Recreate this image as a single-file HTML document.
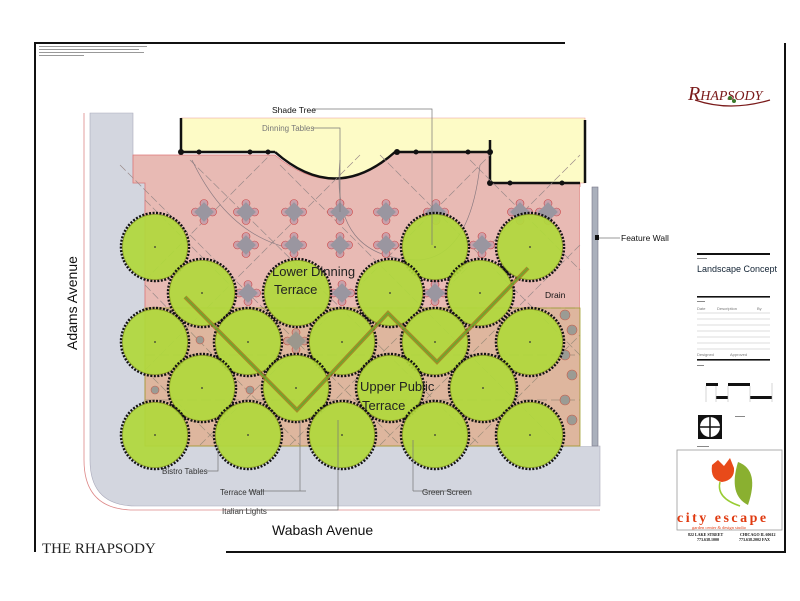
<!DOCTYPE html>
<html><head><meta charset="utf-8"><style>
html,body{margin:0;padding:0;background:#fff;}
svg{display:block;font-family:"Liberation Sans",sans-serif;}
</style></head><body>
<svg width="800" height="601" viewBox="0 0 800 601" xmlns="http://www.w3.org/2000/svg">
<defs>
<g id="tb">
<circle cx="0" cy="-8.5" r="4" fill="#c9a0aa" stroke="#c44" stroke-width="0.6"/>
<circle cx="0" cy="8.5" r="4" fill="#c9a0aa" stroke="#c44" stroke-width="0.6"/>
<circle cx="-8.5" cy="0" r="4" fill="#c9a0aa" stroke="#c44" stroke-width="0.6"/>
<circle cx="8.5" cy="0" r="4" fill="#c9a0aa" stroke="#c44" stroke-width="0.6"/>
<rect x="-7" y="-7" width="14" height="14" fill="#9a96a0" transform="rotate(45)"/>
</g>
<g id="tr">
<circle r="34" fill="none" stroke="#111" stroke-width="2.5" stroke-dasharray="2 1.5"/>
<circle r="32.5" fill="#b0d83c" fill-opacity="0.93" stroke="#8aa020" stroke-width="0.8"/>
<circle r="0.9" fill="#333"/>
</g>
</defs>
<rect width="800" height="601" fill="#fff"/>
<line x1="35" y1="43" x2="565" y2="43" stroke="#111" stroke-width="2"/>
<line x1="35" y1="42" x2="35" y2="552" stroke="#111" stroke-width="2"/>
<line x1="785" y1="43" x2="785" y2="552" stroke="#111" stroke-width="2"/>
<line x1="226" y1="552" x2="786" y2="552" stroke="#111" stroke-width="2"/>
<g fill="#999"><rect x="39" y="46" width="108" height="1"/><rect x="39" y="49" width="100" height="1"/><rect x="39" y="52" width="105" height="1"/><rect x="39" y="55" width="45" height="1"/></g>
<path d="M84 113 V460 Q84 510 134 510 H600" fill="none" stroke="#d88" stroke-width="0.8"/>
<path d="M90 113 H133 V183 H145 V446 H600 V506 H136 Q90 506 90 460 Z" fill="#d3d6df" stroke="#aab" stroke-width="0.6"/>
<path d="M181 118 H585 V183 H490 V152 H395 Q335 205 275 152 H181 Z" fill="#fdfbc6" stroke="#e99" stroke-width="0.6"/>
<path d="M133 155 H275 Q335 205 395 152 H490 V183 H580 V446 H145 V183 H133 Z" fill="#e8bab4" stroke="#d77" stroke-width="0.8"/>
<rect x="580" y="187" width="12" height="259" fill="#fff"/>
<rect x="592" y="187" width="6" height="259" fill="#aab0bc" stroke="#778" stroke-width="0.6"/>
<g stroke="#111" stroke-width="2.5" fill="none">
<path d="M181 118 V152 H275"/><path d="M275 152 Q335 205 395 152"/><path d="M395 152 H490"/><path d="M490 140 V183 H580"/><path d="M585 120 V183"/>
</g>
<g fill="#111"><circle cx="181" cy="152" r="3"/><circle cx="199" cy="152" r="2.5"/><circle cx="250" cy="152" r="2.5"/><circle cx="268" cy="152" r="2.5"/><circle cx="397" cy="152" r="3"/><circle cx="416" cy="152" r="2.5"/><circle cx="468" cy="152" r="2.5"/><circle cx="490" cy="152" r="3"/><circle cx="490" cy="183" r="3"/><circle cx="510" cy="183" r="2.5"/><circle cx="562" cy="183" r="2.5"/></g>
<g stroke="#9a8a8a" stroke-width="0.7" fill="none" stroke-dasharray="8 3">
<path d="M120 165 L400 445 M190 160 L480 445 M280 165 L560 445 M380 155 L580 355 M470 160 L580 270 M145 200 L230 285 M145 285 L300 445 M145 370 L220 445"/>
<path d="M145 280 L270 155 M145 370 L360 155 M200 445 L490 155 M290 445 L580 155 M380 445 L580 245 M470 445 L580 335"/>
<path d="M145 308 H580 M145 355 H580 M145 400 H580" stroke-dasharray="10 4"/>
</g>
<g fill="none" stroke="#8a7a80" stroke-width="0.7"><path d="M192 160 Q230 240 300 250 M340 160 Q330 260 420 260 Q470 255 480 165"/></g>
<g>
<use href="#tb" x="204" y="212"/><use href="#tb" x="246" y="212"/><use href="#tb" x="294" y="212"/><use href="#tb" x="340" y="212"/><use href="#tb" x="386" y="212"/><use href="#tb" x="436" y="212"/><use href="#tb" x="520" y="212"/><use href="#tb" x="548" y="212"/>
<use href="#tb" x="246" y="245"/><use href="#tb" x="294" y="245"/><use href="#tb" x="340" y="245"/><use href="#tb" x="386" y="245"/><use href="#tb" x="482" y="245"/>
<use href="#tb" x="248" y="293"/><use href="#tb" x="342" y="293"/><use href="#tb" x="435" y="293"/>
<use href="#tb" x="296" y="341"/>
</g>
<g fill="#999aa8" stroke="#c55" stroke-width="0.6"><circle cx="565" cy="315" r="5"/><circle cx="572" cy="330" r="5"/><circle cx="565" cy="355" r="5"/><circle cx="572" cy="375" r="5"/><circle cx="565" cy="400" r="5"/><circle cx="572" cy="420" r="5"/><circle cx="200" cy="340" r="4"/><circle cx="250" cy="390" r="4"/><circle cx="155" cy="390" r="4"/></g>
<rect x="145" y="308" width="435" height="138" fill="#a9a020" fill-opacity="0.15" stroke="#a0a030" stroke-width="0.8"/>
<g>
<use href="#tr" x="155" y="247"/><use href="#tr" x="435" y="247"/><use href="#tr" x="530" y="247"/>
<use href="#tr" x="202" y="293"/><use href="#tr" x="297" y="293"/><use href="#tr" x="390" y="293"/><use href="#tr" x="480" y="293"/>
<use href="#tr" x="155" y="342"/><use href="#tr" x="248" y="342"/><use href="#tr" x="342" y="342"/><use href="#tr" x="435" y="342"/><use href="#tr" x="530" y="342"/>
<use href="#tr" x="202" y="388"/><use href="#tr" x="296" y="388"/><use href="#tr" x="390" y="388"/><use href="#tr" x="483" y="388"/>
<use href="#tr" x="155" y="435"/><use href="#tr" x="248" y="435"/><use href="#tr" x="342" y="435"/><use href="#tr" x="435" y="435"/><use href="#tr" x="530" y="435"/>
</g>
<polyline points="185,297 297,410 388,313 437,362 528,268" fill="none" stroke="#a07a20" stroke-width="4" stroke-opacity="0.8"/>
<polyline points="185,297 297,410 388,313 437,362 528,268" fill="none" stroke="#5fae30" stroke-width="1.2"/>
<g stroke="#777" stroke-width="0.7" fill="none">
<path d="M313 109 H432 V245"/><path d="M313 128 H340 V212"/><path d="M598 238 H620"/>
<path d="M207 471 H218 V445"/><path d="M306 491 H300 V420 M248 491 H300"/><path d="M230 510 H338 V420"/><path d="M413 491 H470 M413 491 V440"/>
</g>
<rect x="595" y="235" width="4" height="5" fill="#111"/>
<g font-size="8.5" fill="#111">
<text x="272" y="113">Shade Tree</text>
<text x="621" y="241">Feature Wall</text>
<text x="545" y="298">Drain</text>
</g>
<text x="262" y="131" font-size="8" fill="#777">Dinning Tables</text>
<g font-size="8" fill="#333">
<text x="162" y="474">Bistro Tables</text>
<text x="220" y="495">Terrace Wall</text>
<text x="222" y="514">Italian Lights</text>
<text x="422" y="495">Green Screen</text>
</g>
<g font-size="13" fill="#222">
<text x="272" y="276">Lower Dinning</text><text x="274" y="294">Terrace</text>
<text x="360" y="391">Upper Public</text><text x="362" y="410">Terrace</text>
</g>
<text x="272" y="535" font-size="14" fill="#111">Wabash Avenue</text>
<text transform="translate(77 350) rotate(-90)" font-size="14" fill="#111">Adams Avenue</text>
<text x="42" y="553" font-family="Liberation Serif,serif" font-size="15" fill="#222">THE RHAPSODY</text>
<text x="688" y="100" font-family="Liberation Serif,serif" font-size="20" fill="#7a1a1a" font-style="italic">R<tspan font-size="14">HAPSODY</tspan></text>
<path d="M695 100 Q730 112 770 100" stroke="#7a1a1a" stroke-width="1.2" fill="none"/>
<circle cx="730" cy="98" r="2" fill="#3a7a2a"/><circle cx="734" cy="101" r="2" fill="#3a7a2a"/>
<g fill="#111">
<rect x="697" y="253" width="73" height="2"/><rect x="697" y="296" width="73" height="1.6"/><rect x="697" y="359" width="73" height="1.6"/>
<rect x="706" y="383" width="12" height="3"/><rect x="728" y="383" width="22" height="3"/><rect x="716" y="396" width="12" height="3"/><rect x="750" y="396" width="22" height="3"/>
</g>
<g fill="#888"><rect x="697" y="258" width="10" height="1"/><rect x="697" y="301" width="8" height="1"/><rect x="697" y="365" width="7" height="1"/><rect x="735" y="416" width="10" height="1"/><rect x="697" y="446" width="12" height="1"/></g>
<g stroke="#bbb" stroke-width="0.6"><path d="M697 313 H770 M697 319 H770 M697 325 H770 M697 331 H770 M697 337 H770 M697 343 H770 M697 349 H770"/><path d="M706 386 V402 M716 386 V402 M728 386 V402 M750 386 V402 M772 383 V402"/></g>
<g fill="#777" font-size="4"><text x="697" y="310">Date</text><text x="717" y="310">Description</text><text x="757" y="310">By</text><text x="697" y="356">Designed</text><text x="730" y="356">Approved</text></g>
<text x="697" y="272" font-size="9" fill="#123">Landscape Concept</text>
<rect x="698" y="415" width="24" height="24" fill="#111"/>
<circle cx="710" cy="427" r="10" fill="#fff"/><path d="M700 427 H720 M710 417 V437" stroke="#111" stroke-width="1.5"/>
<rect x="677" y="450" width="105" height="80" fill="#fff" stroke="#999" stroke-width="0.8"/>
<path d="M712 465 L718 460 L724 466 L730 458 L734 468 Q735 480 722 482 Q710 480 712 465 Z" fill="#e84a1a"/>
<path d="M738 462 Q760 470 748 505 Q728 495 738 462 Z" fill="#8ab030"/>
<path d="M720 482 Q716 498 740 506" stroke="#9c3" stroke-width="1.5" fill="none"/>
<text x="677" y="522" font-family="Liberation Serif,serif" font-size="14" fill="#e03a10" letter-spacing="2.5" font-weight="bold">city escape</text>
<text x="692" y="529" font-family="Liberation Serif,serif" font-size="4.5" fill="#e03a10">garden center &amp; design studio</text>
<g font-size="4" fill="#111" font-family="Liberation Serif,serif" font-weight="bold"><text x="688" y="536">822 LAKE STREET</text><text x="740" y="536">CHICAGO IL 60612</text><text x="697" y="541">773.638.1000</text><text x="739" y="541">773.638.2002 FAX</text></g>
</svg>
</body></html>
